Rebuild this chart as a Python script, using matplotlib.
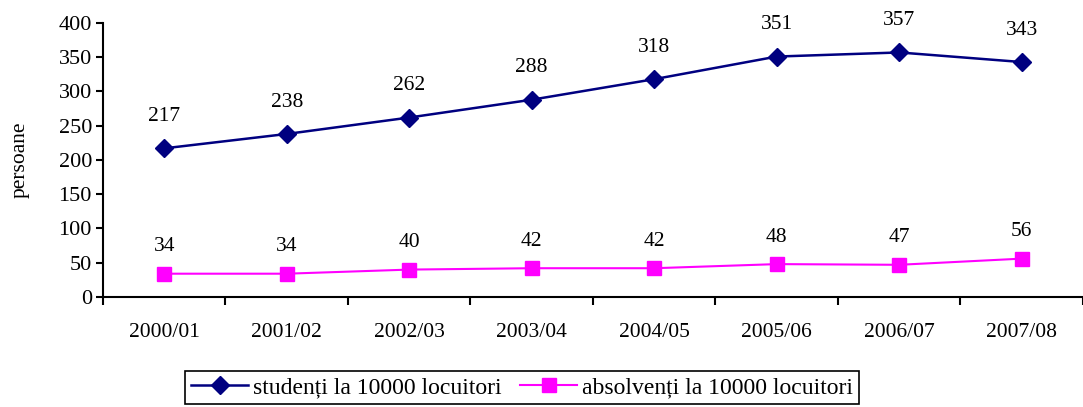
import matplotlib
matplotlib.use("Agg")
import matplotlib.pyplot as plt

years = ["2000/01", "2001/02", "2002/03", "2003/04", "2004/05", "2005/06", "2006/07", "2007/08"]
studenti = [217, 238, 262, 288, 318, 351, 357, 343]
absolventi = [34, 34, 40, 42, 42, 48, 47, 56]

plt.rcParams["font.family"] = ["Liberation Serif", "DejaVu Serif"]

fig = plt.figure(figsize=(10.83, 4.07), dpi=100)
ax = fig.add_axes([0.0951, 0.2703, 0.9049, 0.6732])

x = list(range(len(years)))
ax.plot(x, studenti, color="#000080", lw=1.8, marker="D", ms=9.5,
        label="studenți la 10000 locuitori")
ax.plot(x, absolventi, color="#FF00FF", lw=1.5, marker="s", ms=10.5,
        label="absolvenți la 10000 locuitori")

for xi, v in zip(x, studenti):
    ax.annotate(str(v), (xi, v), xytext=(0, 23), textcoords="offset points",
                ha="center", va="center", fontsize=15.5)
for xi, v in zip(x, absolventi):
    ax.annotate(str(v), (xi, v), xytext=(0, 19.5), textcoords="offset points",
                ha="center", va="center", fontsize=15.5)

ax.set_ylim(0, 400)
ax.set_yticks(range(0, 401, 50))
ax.set_xlim(-0.5, 7.44)
ax.set_xticks([i + 0.5 for i in range(-1, 8)])
ax.set_xticklabels([])
ax.set_xticks(x, minor=True)
ax.set_xticklabels(years, minor=True)
ax.tick_params(axis="x", which="minor", length=0, pad=18.5, labelsize=15.5)
ax.tick_params(axis="x", which="major", length=6, width=1.5, direction="out")
ax.tick_params(axis="y", length=5, width=1.5, labelsize=16, pad=3)

for s in ["top", "right"]:
    ax.spines[s].set_visible(False)
for s in ["left", "bottom"]:
    ax.spines[s].set_linewidth(1.5)

ax.set_ylabel("persoane", fontsize=15.5)
ax.yaxis.set_label_coords(-0.0745, 0.5)

leg = fig.legend(loc="center", bbox_to_anchor=(0.482, 0.048), ncol=2,
                 fontsize=17, frameon=True, fancybox=False, edgecolor="black",
                 framealpha=1, handlelength=2.4, columnspacing=0.8,
                 handletextpad=0.2, borderpad=0.25, borderaxespad=0)
leg.get_frame().set_linewidth(1.2)

fig.savefig("out.png", dpi=100)
